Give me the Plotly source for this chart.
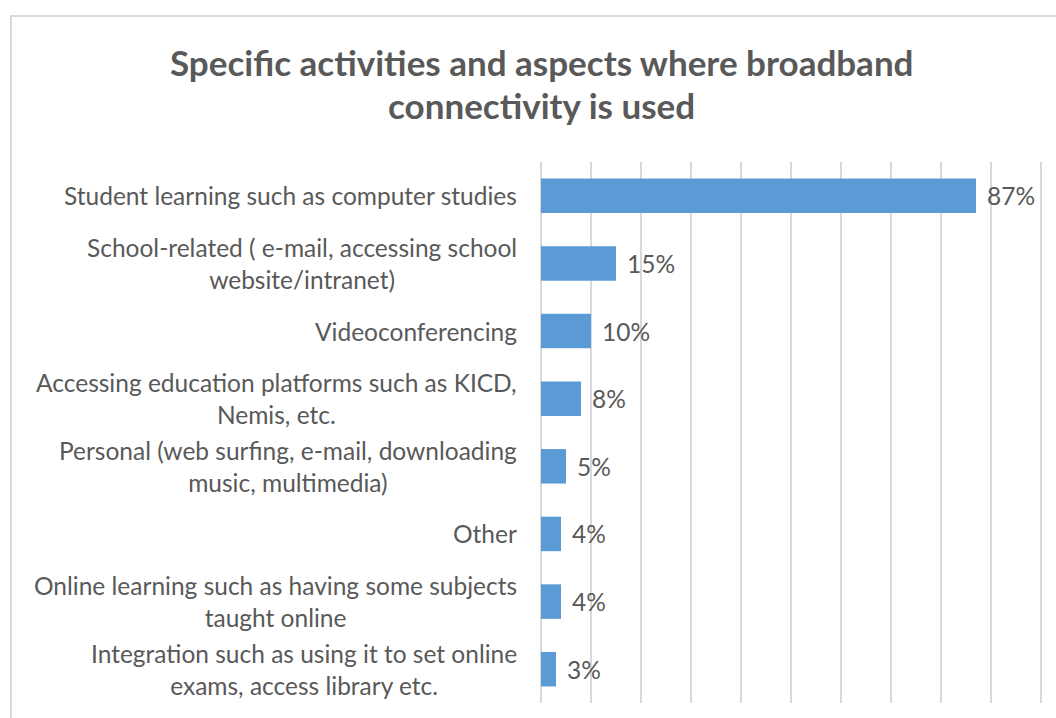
import plotly.graph_objects as go

# Survey data: share of schools using broadband for each activity
categories = [
    "Student learning such as computer studies",
    "School-related ( e-mail, accessing school<br>website/intranet)",
    "Videoconferencing",
    "Accessing education platforms such as KICD,<br>Nemis, etc.",
    "Personal (web surfing, e-mail, downloading<br>music, multimedia)",
    "Other",
    "Online learning such as having some subjects<br>taught online",
    "Integration such as using it to set online<br>exams, access library etc.",
]
values = [87, 15, 10, 8, 5, 4, 4, 3]
title_lines = ["Specific activities and aspects where broadband", "connectivity is used"]

TEXT = "#595959"
BAR = "#5b9bd5"
GRID = "#d9d9d9"
FONT = "Lato"

W, H = 1056, 718
L, R, T, B = 541, 10, 162, 15
XMAX = 101
pw, ph = W - L - R, H - T - B


def px_x(p):
    return (p - L) / pw


def px_y(p):
    return (H - B - p) / ph


fig = go.Figure(
    go.Bar(
        x=values,
        y=list(range(len(categories))),
        orientation="h",
        marker=dict(color=BAR, line=dict(width=0)),
        hoverinfo="skip",
    )
)

annotations = []
# category labels, right aligned against the axis, lines centred
for i, c in enumerate(categories):
    annotations.append(dict(
        x=0, y=i, xref="paper", yref="y", text=c, showarrow=False,
        xanchor="right", yanchor="middle", align="center", xshift=-22,
        font=dict(family=FONT, size=24.5, color=TEXT),
    ))
# value labels
for i, v in enumerate(values):
    annotations.append(dict(
        x=v, y=i, xref="x", yref="y", text=f"{v}%", showarrow=False,
        xanchor="left", yanchor="middle", xshift=9,
        font=dict(family=FONT, size=24.5, color=TEXT),
    ))
# title lines
for line, ypx in zip(title_lines, [62, 105]):
    annotations.append(dict(
        x=px_x(541), y=px_y(ypx), xref="paper", yref="paper", text=f"<b>{line}</b>",
        showarrow=False, xanchor="center", yanchor="middle",
        font=dict(family=FONT, size=35, color=TEXT),
    ))

fig.update_layout(
    width=W, height=H,
    margin=dict(l=L, r=R, t=T, b=B, pad=0),
    paper_bgcolor="white", plot_bgcolor="white",
    bargap=0.49,
    showlegend=False,
    xaxis=dict(
        range=[0, XMAX], tickvals=list(range(0, 101, 10)), showticklabels=False, ticks="",
        showgrid=True, gridcolor=GRID, gridwidth=1.5,
        zeroline=True, zerolinecolor=GRID, zerolinewidth=1.5,
        showline=False, fixedrange=True,
    ),
    yaxis=dict(
        range=[len(categories) - 0.5, -0.5], showticklabels=False, ticks="",
        showgrid=False, zeroline=False, showline=False, fixedrange=True,
    ),
    annotations=annotations,
    shapes=[dict(
        type="rect", xref="paper", yref="paper",
        x0=px_x(11), x1=px_x(1072), y0=px_y(735), y1=px_y(16),
        line=dict(color=GRID, width=2), fillcolor="rgba(0,0,0,0)", layer="below",
    )],
)

fig.write_html("out.html")
